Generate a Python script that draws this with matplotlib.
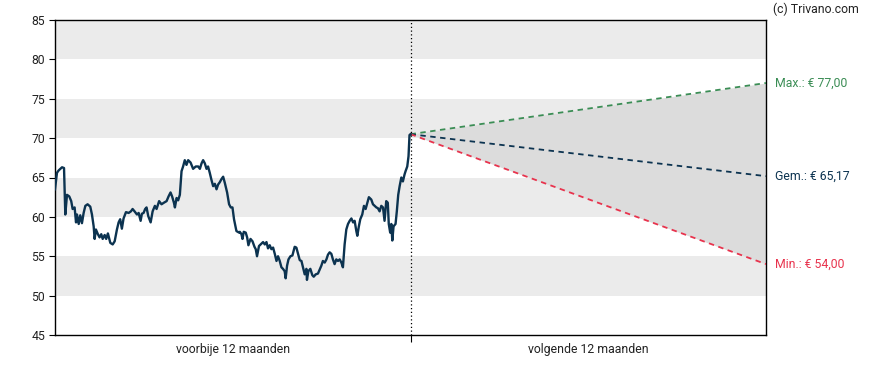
import matplotlib
matplotlib.use("Agg")
import matplotlib.pyplot as plt
import numpy as np

plt.rcParams['font.family'] = ['Roboto', 'DejaVu Sans']

# trading days (past 12 months = 0..252) and closing prices
days = [0, 1.4, 2.6, 5.0, 6.4, 7.3, 8.5, 10.1, 11.5, 12.5, 13.9, 14.9, 15.6, 16.8, 17.9, 19.1,
        20.3, 21.5, 23.1, 25.0, 26.2, 27.4, 28.1, 29.0, 30.4, 31.6, 32.8, 33.8, 35.2, 36.3,
        37.5, 39.2, 40.9, 42.3, 43.9, 45.1, 46.2, 47.4, 48.6, 50.3, 52.2, 53.8, 55.0, 56.4,
        58.1, 59.3, 60.7, 61.6, 62.8, 63.9, 64.9, 66.1, 67.8, 69.2, 70.8, 72.0, 73.8, 75.5,
        77.2, 79.1, 80.5, 81.9, 83.0, 84.3, 85.0, 86.2, 87.3, 88.5, 89.7, 90.8, 92.0, 93.2,
        94.4, 96.1, 97.9, 99.8, 101.5, 102.7, 103.9, 105.0, 106.2, 107.4, 108.5, 109.7,
        110.9, 112.1, 113.3, 114.5, 115.6, 116.8, 118.0, 119.2, 120.4, 122.0, 123.4, 124.6,
        125.8, 126.9, 128.6, 130.5, 131.0, 132.2, 132.9, 133.8, 135.2, 136.2, 137.1, 138.6,
        140.0, 141.4, 142.3, 143.2, 144.6, 146.3, 147.5, 148.7, 149.9, 151.0, 152.2, 153.4,
        154.6, 155.8, 157.0, 158.1, 159.3, 160.5, 161.6, 162.8, 163.5, 164.5, 165.5, 166.9,
        168.3, 169.9, 171.1, 172.3, 173.5, 174.7, 175.8, 177.0, 178.2, 178.6, 179.6, 181.0,
        182.4, 183.4, 184.8, 186.4, 187.6, 188.8, 189.9, 191.2, 192.4, 193.5, 194.7, 195.9,
        197.0, 198.2, 199.4, 200.6, 201.8, 203.0, 204.1, 205.3, 206.5, 207.7, 208.9, 210.1,
        211.3, 212.4, 213.6, 214.3, 215.4, 216.4, 217.8, 219.0, 220.2, 221.1, 222.5, 224.2,
        225.4, 226.6, 227.8, 228.9, 230.1, 231.3, 232.5, 233.6, 234.8, 235.9, 236.6, 237.6,
        238.4, 239.1, 240.0, 241.4, 242.3, 243.3, 244.3, 245.5, 246.6, 247.8, 248.5, 249.7,
        250.6, 251.3, 252.0]
prices = [63.5, 65.6, 65.9, 66.3, 66.2, 60.3, 62.8, 62.6, 62.0, 61.0, 61.2, 59.3, 60.3, 59.1,
          60.2, 59.2, 60.5, 61.4, 61.6, 61.3, 60.3, 58.8, 57.2, 58.4, 57.8, 57.4, 57.8, 57.2,
          57.7, 57.2, 57.9, 56.7, 56.5, 56.9, 58.4, 59.3, 59.7, 58.5, 59.8, 60.6, 60.5, 60.7,
          61.0, 60.7, 60.3, 60.5, 59.5, 60.4, 60.5, 61.0, 61.2, 60.1, 59.3, 60.7, 61.4, 61.0,
          62.0, 61.6, 61.8, 62.0, 62.6, 63.1, 62.6, 61.8, 61.2, 62.4, 62.1, 62.8, 65.8, 66.4,
          67.2, 66.6, 67.2, 66.9, 66.1, 66.4, 66.4, 66.1, 66.8, 67.2, 66.8, 66.1, 66.4, 65.6,
          64.7, 63.9, 64.2, 63.5, 64.1, 64.4, 64.8, 65.1, 64.3, 63.1, 61.6, 61.2, 61.2, 59.7,
          58.2, 58.0, 58.1, 57.8, 57.2, 58.1, 58.0, 57.4, 56.4, 57.2, 56.9, 56.2, 55.9, 55.0,
          56.3, 56.6, 56.8, 56.5, 56.8, 56.0, 56.4, 55.9, 56.1, 55.3, 54.4, 55.0, 54.4, 53.6,
          53.4, 53.1, 52.2, 53.8, 54.6, 55.0, 55.1, 56.2, 56.1, 55.3, 54.5, 54.4, 53.6, 52.7,
          53.4, 52.0, 53.1, 53.4, 52.6, 52.4, 52.7, 52.8, 53.3, 53.8, 54.4, 54.2, 54.6, 55.2,
          55.5, 55.3, 54.6, 54.0, 54.6, 54.4, 54.6, 54.2, 53.6, 56.5, 58.4, 59.1, 59.5, 59.8,
          59.3, 59.5, 58.2, 57.6, 58.8, 59.7, 60.3, 61.4, 61.0, 61.6, 62.5, 62.2, 61.6, 61.4,
          61.2, 61.1, 60.7, 61.4, 61.2, 59.5, 62.0, 61.8, 59.1, 58.0, 59.1, 57.0, 58.8, 59.1,
          60.7, 62.8, 63.9, 65.0, 64.5, 65.4, 65.8, 66.4, 67.7, 70.4, 70.5]

forecast_max = 77.00
forecast_mean = 65.17
forecast_min = 54.00
period_labels = ["voorbije 12 maanden", "volgende 12 maanden"]
y_ticks = [45, 50, 55, 60, 65, 70, 75, 80, 85]

NAVY = "#0c3350"
GREEN = "#3b8d55"
RED = "#e8334d"
FS = 8.8

fig = plt.figure(figsize=(8.88, 3.70), dpi=100)
ax = fig.add_axes([55/888, 1-335/370, (766-55)/888, (335-20)/370])

total = 504
now = 252
ax.set_xlim(0, total)
ax.set_ylim(45, 85)

# alternating bands
for lo in range(50, 85, 10):
    ax.axhspan(lo, lo + 5, color="#ebebeb", lw=0, zorder=0)

last = prices[-1]
fx = [now, total]
ax.fill_between(fx, [last, forecast_max], [last, forecast_min], color="#dcdcdc", lw=0, zorder=1)

ax.plot(days, prices, color=NAVY, lw=1.7, zorder=4, solid_joinstyle="round")
ax.plot(fx, [last, forecast_max], color=GREEN, lw=1.3, ls=(0, (3, 2.5)), zorder=3)
ax.plot(fx, [last, forecast_mean], color=NAVY, lw=1.3, ls=(0, (3, 2.5)), zorder=3)
ax.plot(fx, [last, forecast_min], color=RED, lw=1.3, ls=(0, (3, 2.5)), zorder=3)

ax.axvline(now, color="black", lw=0.9, ls=(0, (1, 2)), zorder=5)

ax.set_yticks(y_ticks)
ax.set_yticklabels([str(v) for v in y_ticks], fontsize=FS, color="#222222")
ax.set_xticks([now])
ax.set_xticklabels([""])
ax.set_xticks([now / 2, now + (total - now) / 2], minor=True)
ax.set_xticklabels(period_labels, minor=True, fontsize=FS, color="#222222")
ax.tick_params(axis="x", which="minor", length=0, pad=6)
ax.tick_params(axis="x", which="major", length=5, width=0.8)
ax.tick_params(axis="y", length=4, width=0.8, pad=3)
for s in ax.spines.values():
    s.set_linewidth(1.0)

for val, col, name in [(forecast_max, GREEN, "Max."), (forecast_mean, NAVY, "Gem."), (forecast_min, RED, "Min.")]:
    txt = f"{name}: € " + f"{val:.2f}".replace(".", ",")
    ax.annotate(txt, xy=(1, val), xycoords=("axes fraction", "data"),
                xytext=(6.5, 0), textcoords="offset points", va="center", ha="left",
                fontsize=FS, color=col, annotation_clip=False)

fig.text(773/888, 1-9/370, "(c) Trivano.com", fontsize=FS, color="#222222", va="center", ha="left")

fig.savefig("out.png", dpi=100)
